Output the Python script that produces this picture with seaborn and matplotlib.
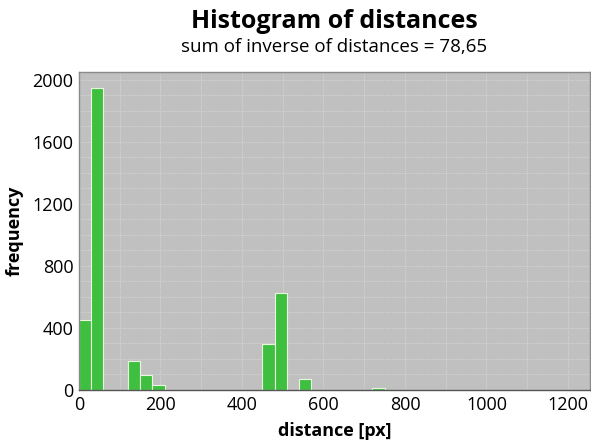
import numpy as np
import matplotlib
matplotlib.use('Agg')
import matplotlib.pyplot as plt
import seaborn as sns
from matplotlib.ticker import MultipleLocator

# ====== DATA ======
bin_left = [0, 30, 120, 150, 180, 450, 480, 540, 720]
counts = [450, 1950, 185, 97, 34, 295, 624, 69, 12]
bin_width = 30
x_ticks = [0, 200, 400, 600, 800, 1000, 1200]
y_ticks = [0, 400, 800, 1200, 1600, 2000]

title = 'Histogram of distances'
subtitle = 'sum of inverse of distances = 78,65'

# ====== PLOT ======
sns.set_style('white')
plt.rcParams['font.family'] = ['Open Sans', 'DejaVu Sans']
plt.rcParams['text.color'] = 'black'
plt.rcParams['axes.labelcolor'] = 'black'
plt.rcParams['xtick.labelcolor'] = 'black'
plt.rcParams['ytick.labelcolor'] = 'black'

fig = plt.figure(figsize=(5.91, 4.45), dpi=100)
ax = fig.add_axes([79/591, 1 - 390/445, 511/591, 318/445])

centers = np.array(bin_left) + bin_width / 2
sns.histplot(x=centers, weights=counts, binwidth=bin_width, binrange=(0, 750),
             color='#3fbf3f', alpha=1, edgecolor='#e8f8e0', linewidth=0.8, ax=ax)

ax.set_facecolor('#c0c0c0')
ax.set_xlim(0, 1254)
ax.set_ylim(0, 2050)
ax.set_xticks(x_ticks)
ax.set_yticks(y_ticks)
ax.xaxis.set_minor_locator(MultipleLocator(100))
ax.yaxis.set_minor_locator(MultipleLocator(100))
ax.grid(True, which='both', color='#e4e4e4', linestyle=(0, (1, 1.5)), linewidth=0.5)
ax.set_axisbelow(True)
for s in ax.spines.values():
    s.set_color('#8a8a8a')
    s.set_linewidth(1.0)
ax.spines['bottom'].set_color('#555555')

ax.tick_params(axis='both', which='major', labelsize=13, length=3, color='#777777', pad=1)
ax.tick_params(axis='both', which='minor', length=2, color='#777777')

ax.set_xlabel('distance [px]', fontsize=13, fontweight='bold', labelpad=6)
ax.set_ylabel('frequency', fontsize=13, fontweight='bold', labelpad=6)

xc = (79 + 590) / 2 / 591
fig.text(xc, 1 - 22/445, title, ha='center', va='center', fontsize=18, fontweight='bold')
fig.text(xc, 1 - 47/445, subtitle, ha='center', va='center', fontsize=13.5)

fig.savefig('out.png', dpi=100)
